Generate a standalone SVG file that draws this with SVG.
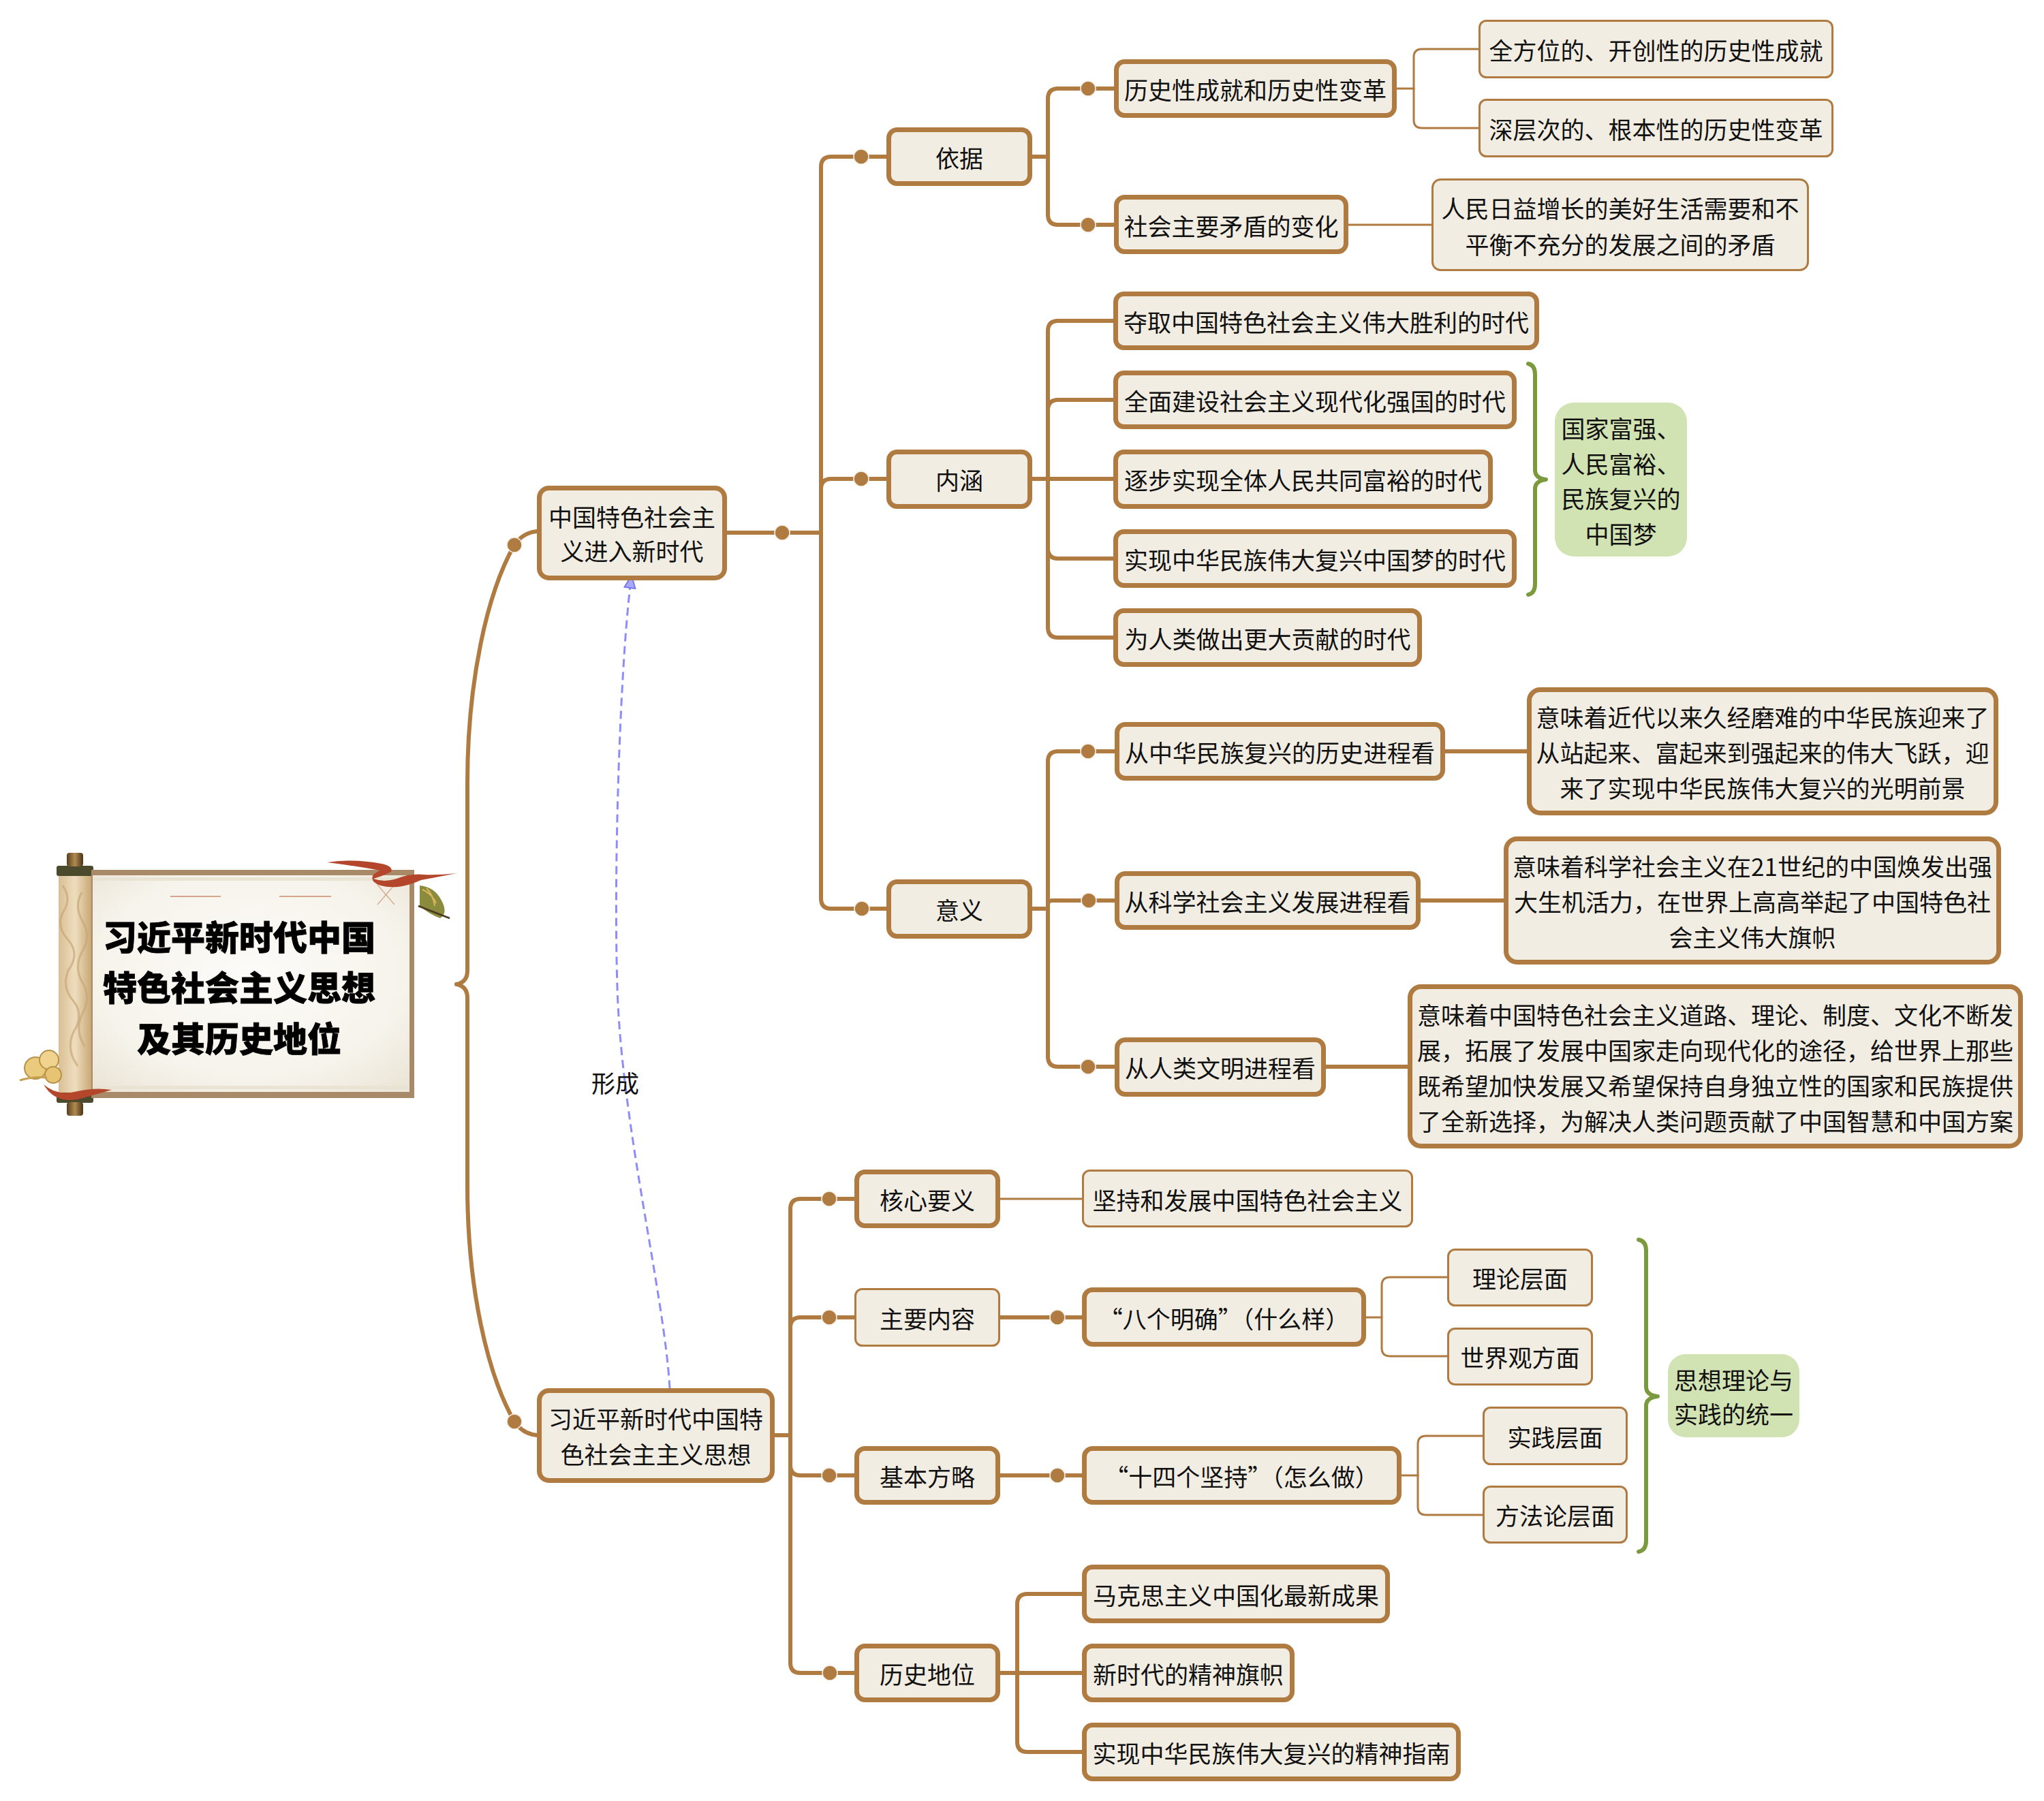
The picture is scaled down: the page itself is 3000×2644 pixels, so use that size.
<svg xmlns="http://www.w3.org/2000/svg" width="3000" height="2644" viewBox="0 0 3000 2644">
<style>
.box{fill:#F1EDE3;stroke:#AF7B41;stroke-width:7}
.boxt{fill:#F1EDE3;stroke:#AF7B41;stroke-width:3}
.t{font-family:"Noto Sans CJK SC","Noto Sans",sans-serif;font-size:35px;fill:#111;text-anchor:middle;dominant-baseline:central}
.ln{fill:none;stroke:#AF7B41;stroke-width:6;stroke-linecap:round;stroke-linejoin:round}
.lnt{fill:none;stroke:#AF7B41;stroke-width:3;stroke-linecap:round;stroke-linejoin:round}
.dot{fill:#AF7B41;stroke:#F4EFE6;stroke-width:1.5}
.brace{fill:none;stroke:#7B9A3D;stroke-width:6;stroke-linecap:round;stroke-linejoin:round}
.gbox{fill:#D1E2B3}
.title{font-family:"Noto Sans CJK SC","Noto Sans",sans-serif;font-size:50px;font-weight:900;fill:#000;stroke:#000;stroke-width:0.8;text-anchor:middle;dominant-baseline:central}
.rel{fill:none;stroke:#8C8CFA;stroke-width:3;stroke-dasharray:12 7}
</style>
<defs>
<linearGradient id="roller" x1="0" y1="0" x2="1" y2="0">
<stop offset="0" stop-color="#D9BF94"/>
<stop offset="0.5" stop-color="#EEDDBE"/>
<stop offset="1" stop-color="#C9A876"/>
</linearGradient>
<radialGradient id="paper" cx="0.5" cy="0.45" r="0.7">
<stop offset="0" stop-color="#FCFBF8"/>
<stop offset="0.7" stop-color="#F6F3EB"/>
<stop offset="1" stop-color="#ECE6D8"/>
</radialGradient>
<linearGradient id="knob" x1="0" y1="0" x2="1" y2="0">
<stop offset="0" stop-color="#5A3E1E"/>
<stop offset="0.5" stop-color="#B08A50"/>
<stop offset="1" stop-color="#4A3218"/>
</linearGradient>
<marker id="arr" markerWidth="22" markerHeight="22" refX="20" refY="11" orient="auto" markerUnits="userSpaceOnUse">
<path d="M2 3 L20 11 L2 19 Z" fill="#A9A9FB" stroke="#7878F0" stroke-width="2"/>
</marker>
</defs>
<rect width="3000" height="2644" fill="#FFFFFF"/>

<g id="connectors">
<!-- root -->
<path class="ln" d="M670 1445 Q686 1442 686 1425 L686 1150 C686 1000 715 870 755 800 Q767 782 788 780"/>
<path class="ln" d="M670 1445 Q686 1448 686 1465 L686 1740 C686 1890 715 2017 755 2087 Q767 2105 788 2107"/>
<circle class="dot" cx="755" cy="800" r="11"/>
<circle class="dot" cx="755" cy="2087" r="11"/>
<!-- N1 -->
<path class="ln" d="M1067 782 L1205 782"/>
<path class="ln" d="M1205 782 L1205 245 Q1205 230 1220 230 L1301 230"/>
<path class="ln" d="M1205 782 L1205 718 Q1205 703 1220 703 L1301 703"/>
<path class="ln" d="M1205 782 L1205 1319 Q1205 1334 1220 1334 L1301 1334"/>
<circle class="dot" cx="1148" cy="782" r="11"/>
<circle class="dot" cx="1264" cy="230" r="11"/>
<circle class="dot" cx="1264" cy="703" r="11"/>
<circle class="dot" cx="1265" cy="1334" r="11"/>
<!-- 依据 -->
<path class="ln" d="M1515 230 L1538 230"/>
<path class="ln" d="M1538 230 L1538 145 Q1538 130 1553 130 L1635 130"/>
<path class="ln" d="M1538 230 L1538 315 Q1538 330 1553 330 L1635 330"/>
<circle class="dot" cx="1597" cy="130" r="11"/>
<circle class="dot" cx="1597" cy="330" r="11"/>
<path class="lnt" d="M2050 130 L2075 130"/>
<path class="lnt" d="M2075 130 L2075 84 Q2075 72 2087 72 L2170 72"/>
<path class="lnt" d="M2075 130 L2075 176 Q2075 188 2087 188 L2170 188"/>
<path class="lnt" d="M1979 330 L2101 330"/>
<!-- 内涵 -->
<path class="ln" d="M1515 703 L1538 703"/>
<path class="ln" d="M1538 703 L1538 486 Q1538 471 1553 471 L1634 471"/>
<path class="ln" d="M1538 703 L1538 602 Q1538 587 1553 587 L1634 587"/>
<path class="ln" d="M1538 703 L1634 703"/>
<path class="ln" d="M1538 703 L1538 805 Q1538 820 1553 820 L1634 820"/>
<path class="ln" d="M1538 703 L1538 921 Q1538 936 1553 936 L1634 936"/>
<!-- 意义 -->
<path class="ln" d="M1515 1334 L1538 1334"/>
<path class="ln" d="M1538 1334 L1538 1118 Q1538 1103 1553 1103 L1636 1103"/>
<path class="ln" d="M1538 1334 L1538 1328 Q1538 1322 1544 1322 L1636 1322"/>
<path class="ln" d="M1538 1334 L1538 1551 Q1538 1566 1553 1566 L1636 1566"/>
<circle class="dot" cx="1597" cy="1103" r="11"/>
<circle class="dot" cx="1598" cy="1322" r="11"/>
<circle class="dot" cx="1597" cy="1566" r="11"/>
<path class="ln" d="M2121 1103 L2241 1103"/>
<path class="ln" d="M2085 1322 L2207 1322"/>
<path class="ln" d="M1946 1566 L2066 1566"/>
<!-- N2 -->
<path class="ln" d="M1137 2107 L1160 2107"/>
<path class="ln" d="M1160 2107 L1160 1775 Q1160 1760 1175 1760 L1254 1760"/>
<path class="ln" d="M1160 2107 L1160 1949 Q1160 1934 1175 1934 L1254 1934"/>
<path class="ln" d="M1160 2107 L1160 2151 Q1160 2166 1175 2166 L1254 2166"/>
<path class="ln" d="M1160 2107 L1160 2441 Q1160 2456 1175 2456 L1254 2456"/>
<circle class="dot" cx="1217" cy="1760" r="11"/>
<circle class="dot" cx="1217" cy="1934" r="11"/>
<circle class="dot" cx="1217" cy="2166" r="11"/>
<circle class="dot" cx="1218" cy="2456" r="11"/>
<path class="lnt" d="M1468 1760 L1588 1760"/>
<path class="ln" d="M1468 1934 L1588 1934"/>
<circle class="dot" cx="1552" cy="1934" r="11"/>
<path class="lnt" d="M2005 1934 L2028 1934"/>
<path class="lnt" d="M2028 1934 L2028 1887 Q2028 1875 2040 1875 L2124 1875"/>
<path class="lnt" d="M2028 1934 L2028 1979 Q2028 1991 2040 1991 L2124 1991"/>
<path class="ln" d="M1468 2166 L1588 2166"/>
<circle class="dot" cx="1552" cy="2166" r="11"/>
<path class="lnt" d="M2057 2166 L2081 2166"/>
<path class="lnt" d="M2081 2166 L2081 2120 Q2081 2108 2093 2108 L2176 2108"/>
<path class="lnt" d="M2081 2166 L2081 2212 Q2081 2224 2093 2224 L2176 2224"/>
<path class="ln" d="M1468 2456 L1493 2456"/>
<path class="ln" d="M1493 2456 L1493 2355 Q1493 2340 1508 2340 L1588 2340"/>
<path class="ln" d="M1493 2456 L1588 2456"/>
<path class="ln" d="M1493 2456 L1493 2557 Q1493 2572 1508 2572 L1588 2572"/>
<!-- relationship -->
<path class="rel" d="M983 2038 C975 1900 912 1650 906 1450 S912 950 927 845" marker-end="url(#arr)"/>
<text class="t" x="903" y="1588">形成</text>
</g>

<g id="root">
<rect x="86" y="1277" width="48" height="336" fill="url(#roller)"/>
<path d="M92 1300 q14 20 0 40 q-10 20 8 40 q18 20 0 45 q-10 25 8 45 q16 20 0 45 q-12 25 6 50" fill="none" stroke="#C7A777" stroke-width="3" opacity="0.7"/>
<path d="M120 1310 q-12 22 2 44 q12 22 -2 44 q-12 24 2 46 q12 22 -2 46 q-10 24 4 46" fill="none" stroke="#C7A777" stroke-width="3" opacity="0.7"/>
<rect x="83" y="1271" width="54" height="15" rx="3" fill="#4B4A2C"/>
<rect x="83" y="1604" width="54" height="15" rx="3" fill="#4B4A2C"/>
<rect x="98" y="1252" width="24" height="20" rx="4" fill="url(#knob)"/>
<rect x="98" y="1618" width="24" height="20" rx="4" fill="url(#knob)"/>
<rect x="134" y="1277" width="474" height="335" fill="#A88A68"/>
<rect x="136" y="1285" width="465" height="318" fill="url(#paper)"/>
<rect x="136" y="1288" width="465" height="5" fill="#E9E3D3"/>
<rect x="136" y="1594" width="465" height="5" fill="#E9E3D3"/>
<line x1="250" y1="1316" x2="324" y2="1316" stroke="#C98B6B" stroke-width="1.5"/>
<line x1="410" y1="1316" x2="486" y2="1316" stroke="#C98B6B" stroke-width="1.5"/>
<line x1="554" y1="1299" x2="579" y2="1328" stroke="#D2A88A" stroke-width="1.2"/>
<line x1="579" y1="1299" x2="554" y2="1328" stroke="#D2A88A" stroke-width="1.2"/>
<path d="M616 1300 q22 2 32 22 q10 18 -2 26 q-16 -6 -30 -18 z" fill="#8B8B3E"/>
<path d="M620 1306 q14 6 20 20 M626 1304 q10 10 12 26" fill="none" stroke="#D9B55A" stroke-width="2"/>
<path d="M614 1330 q20 8 46 18" fill="none" stroke="#4A3A22" stroke-width="2.5"/>
<path d="M480 1266 q40 -6 80 2 q18 4 14 12 q-12 6 -26 10 q16 6 34 0 q20 -8 40 -6 q20 1 48 -2 q-30 6 -52 10 q-18 8 -34 10 q-26 2 -36 -8 q-6 -10 10 -16 q-30 -6 -78 -12 z" fill="#B4472B"/>
<circle cx="52" cy="1568" r="16" fill="#EACB7E" stroke="#B8924A" stroke-width="2"/>
<circle cx="72" cy="1556" r="14" fill="#EFD38E" stroke="#B8924A" stroke-width="2"/>
<circle cx="78" cy="1578" r="12" fill="#E6C474" stroke="#B8924A" stroke-width="2"/>
<path d="M29 1586 q20 -6 40 -4" fill="none" stroke="#C8A050" stroke-width="3"/>
<path d="M64 1592 q20 18 50 10 q26 -6 50 -2 q-28 8 -50 14 q-34 6 -50 -22 z" fill="#B4472B"/>
<text class="title" x="351" y="1373">习近平新时代中国</text>
<text class="title" x="351" y="1447">特色社会主义思想</text>
<text class="title" x="351" y="1522">及其历史地位</text>
</g>

<g id="n1"><rect class="box" x="791.5" y="716.5" width="272" height="132" rx="14"/><text class="t" x="927.5" y="757.5">中国特色社会主</text><text class="t" x="927.5" y="807.5">义进入新时代</text></g>
<g id="n2"><rect class="box" x="791.5" y="2041.5" width="342" height="132" rx="14"/><text class="t" x="962.5" y="2081.5">习近平新时代中国特</text><text class="t" x="962.5" y="2133.5">色社会主主义思想</text></g>

<g id="yiju"><rect class="box" x="1304.5" y="190.5" width="207" height="79" rx="12"/><text class="t" x="1408" y="230">依据</text></g>
<g id="neihan"><rect class="box" x="1304.5" y="663.5" width="207" height="80" rx="12"/><text class="t" x="1408" y="703.5">内涵</text></g>
<g id="yiyi"><rect class="box" x="1304.5" y="1294.5" width="207" height="80" rx="12"/><text class="t" x="1408" y="1334.5">意义</text></g>

<g id="lishixing"><rect class="box" x="1638.5" y="90.5" width="408" height="79" rx="12"/><text class="t" x="1842.5" y="130">历史性成就和历史性变革</text></g>
<g id="maodun"><rect class="box" x="1638.5" y="289.5" width="337" height="80" rx="12"/><text class="t" x="1807" y="330">社会主要矛盾的变化</text></g>
<g id="quanfangwei"><rect class="boxt" x="2171.5" y="30.5" width="518" height="83" rx="10"/><text class="t" x="2430.5" y="72">全方位的、开创性的历史性成就</text></g>
<g id="shencengci"><rect class="boxt" x="2171.5" y="146.5" width="518" height="83" rx="10"/><text class="t" x="2430.5" y="188">深层次的、根本性的历史性变革</text></g>
<g id="renmin"><rect class="boxt" x="2102.5" y="263.5" width="551" height="133" rx="12"/><text class="t" x="2378" y="304">人民日益增长的美好生活需要和不</text><text class="t" x="2378" y="357">平衡不充分的发展之间的矛盾</text></g>

<g id="nh1"><rect class="box" x="1637.5" y="431.5" width="618" height="79" rx="12"/><text class="t" x="1946.5" y="471">夺取中国特色社会主义伟大胜利的时代</text></g>
<g id="nh2"><rect class="box" x="1637.5" y="547.5" width="585" height="79" rx="12"/><text class="t" x="1930" y="587">全面建设社会主义现代化强国的时代</text></g>
<g id="nh3"><rect class="box" x="1637.5" y="663.5" width="550" height="80" rx="12"/><text class="t" x="1912.5" y="703.5">逐步实现全体人民共同富裕的时代</text></g>
<g id="nh4"><rect class="box" x="1637.5" y="780.5" width="585" height="79" rx="12"/><text class="t" x="1930" y="820">实现中华民族伟大复兴中国梦的时代</text></g>
<g id="nh5"><rect class="box" x="1637.5" y="896.5" width="446" height="79" rx="12"/><text class="t" x="1860.5" y="936">为人类做出更大贡献的时代</text></g>
<g id="sum1"><path class="brace" d="M2243 534 Q2253 536 2253 550 L2253 690 Q2253 702 2269 704 Q2253 706 2253 718 L2253 857 Q2253 871 2243 873"/><rect class="gbox" x="2282" y="591" width="194" height="226" rx="28"/><text class="t" x="2379" y="627">国家富强、</text><text class="t" x="2379" y="679">人民富裕、</text><text class="t" x="2379" y="730">民族复兴的</text><text class="t" x="2379" y="782">中国梦</text></g>

<g id="yy1"><rect class="box" x="1639.5" y="1063.5" width="478" height="79" rx="12"/><text class="t" x="1878.5" y="1103">从中华民族复兴的历史进程看</text></g>
<g id="yy2"><rect class="box" x="1639.5" y="1282.5" width="442" height="79" rx="12"/><text class="t" x="1860.5" y="1322">从科学社会主义发展进程看</text></g>
<g id="yy3"><rect class="box" x="1639.5" y="1526.5" width="303" height="80" rx="12"/><text class="t" x="1791" y="1566.5">从人类文明进程看</text></g>
<g id="yy1c"><rect class="box" x="2244.5" y="1012.5" width="685" height="181" rx="16"/><text class="t" x="2587" y="1051">意味着近代以来久经磨难的中华民族迎来了</text><text class="t" x="2587" y="1103">从站起来、富起来到强起来的伟大飞跃，迎</text><text class="t" x="2587" y="1155">来了实现中华民族伟大复兴的光明前景</text></g>
<g id="yy2c"><rect class="box" x="2210.5" y="1231.5" width="723" height="181" rx="16"/><text class="t" x="2572" y="1270">意味着科学社会主义在21世纪的中国焕发出强</text><text class="t" x="2572" y="1322">大生机活力，在世界上高高举起了中国特色社</text><text class="t" x="2572" y="1374">会主义伟大旗帜</text></g>
<g id="yy3c"><rect class="box" x="2069.5" y="1448.5" width="896" height="234" rx="16"/><text class="t" x="2517.5" y="1488">意味着中国特色社会主义道路、理论、制度、文化不断发</text><text class="t" x="2517.5" y="1540">展，拓展了发展中国家走向现代化的途径，给世界上那些</text><text class="t" x="2517.5" y="1592">既希望加快发展又希望保持自身独立性的国家和民族提供</text><text class="t" x="2517.5" y="1644">了全新选择，为解决人类问题贡献了中国智慧和中国方案</text></g>

<g id="hexin"><rect class="box" x="1257.5" y="1720.5" width="207" height="79" rx="12"/><text class="t" x="1361" y="1760">核心要义</text></g>
<g id="zhuyao"><rect class="boxt" x="1255.5" y="1892.5" width="211" height="83" rx="10"/><text class="t" x="1361" y="1934">主要内容</text></g>
<g id="jiben"><rect class="box" x="1257.5" y="2126.5" width="207" height="79" rx="12"/><text class="t" x="1361" y="2166">基本方略</text></g>
<g id="diwei"><rect class="box" x="1257.5" y="2416.5" width="207" height="79" rx="12"/><text class="t" x="1361" y="2456">历史地位</text></g>

<g id="jianchi"><rect class="boxt" x="1589.5" y="1718.5" width="483" height="82" rx="10"/><text class="t" x="1831" y="1760">坚持和发展中国特色社会主义</text></g>
<g id="bage"><rect class="box" x="1591.5" y="1893.5" width="410" height="80" rx="12"/><text class="t" x="1796.5" y="1934">“八个明确”（什么样）</text></g>
<g id="shisi"><rect class="box" x="1591.5" y="2126.5" width="462" height="79" rx="12"/><text class="t" x="1822.5" y="2166">“十四个坚持”（怎么做）</text></g>
<g id="lilun"><rect class="boxt" x="2125.5" y="1834.5" width="211" height="82" rx="10"/><text class="t" x="2231" y="1875.5">理论层面</text></g>
<g id="shijieguan"><rect class="boxt" x="2125.5" y="1950.5" width="211" height="82" rx="10"/><text class="t" x="2231" y="1991.5">世界观方面</text></g>
<g id="shijian"><rect class="boxt" x="2177.5" y="2066.5" width="210" height="83" rx="10"/><text class="t" x="2282.5" y="2108">实践层面</text></g>
<g id="fangfalun"><rect class="boxt" x="2177.5" y="2182.5" width="210" height="82" rx="10"/><text class="t" x="2282.5" y="2223.5">方法论层面</text></g>
<g id="sum2"><path class="brace" d="M2405 1820 Q2416 1822 2416 1836 L2416 2036 Q2416 2048 2433 2050 Q2416 2052 2416 2064 L2416 2262 Q2416 2276 2405 2278"/><rect class="gbox" x="2448" y="1988" width="193" height="122" rx="26"/><text class="t" x="2544.5" y="2024">思想理论与</text><text class="t" x="2544.5" y="2074">实践的统一</text></g>

<g id="dw1"><rect class="box" x="1591.5" y="2300.5" width="445" height="79" rx="12"/><text class="t" x="1814" y="2340">马克思主义中国化最新成果</text></g>
<g id="dw2"><rect class="box" x="1591.5" y="2416.5" width="305" height="79" rx="12"/><text class="t" x="1744" y="2456">新时代的精神旗帜</text></g>
<g id="dw3"><rect class="box" x="1591.5" y="2532.5" width="549" height="79" rx="12"/><text class="t" x="1866" y="2572">实现中华民族伟大复兴的精神指南</text></g>
</svg>
